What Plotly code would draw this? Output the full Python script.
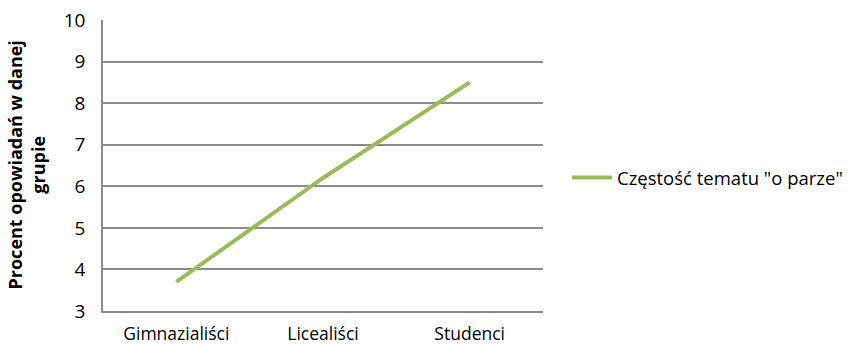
import plotly.graph_objects as go

categories = ["Gimnazialiści", "Licealiści", "Studenci"]
values = [3.7, 6.2, 8.5]
series_name = 'Częstość tematu "o parze"'
y_title = "Procent opowiadań w danej<br>grupie"
y_ticks = [3, 4, 5, 6, 7, 8, 9, 10]

FONT = "Open Sans"
GRID = "#8C8C8C"
W, H = 848, 345
LEFT, PLOT_W = 103, 440

fig = go.Figure()
fig.add_trace(go.Scatter(
    x=categories, y=values, mode="lines", name=series_name,
    line=dict(color="#9BBB59", width=4),
))

fig.update_layout(
    width=W, height=H,
    margin=dict(l=LEFT, r=0, t=20, b=34),
    paper_bgcolor="white", plot_bgcolor="white",
    font=dict(family=FONT, size=18, color="#000000"),
    showlegend=True,
    legend=dict(x=1.0, y=0.457, xanchor="right", yanchor="middle",
                font=dict(family=FONT, size=18.5), itemwidth=40,
                bgcolor="rgba(0,0,0,0)"),
    xaxis=dict(type="category", range=[-0.5, 2.5], showgrid=False,
               domain=[0, PLOT_W / (W - LEFT)], automargin=False,
               showline=True, linecolor=GRID, linewidth=1.5,
               ticks="outside", ticklen=6, tickcolor="rgba(0,0,0,0)",
               tickfont=dict(family=FONT, size=17.5)),
    yaxis=dict(range=[3, 10], tickvals=y_ticks, showgrid=True,
               automargin=False,
               gridcolor=GRID, gridwidth=1.5, zeroline=False,
               showline=True, linecolor=GRID, linewidth=1.5,
               ticks="outside", ticklen=12, tickcolor="rgba(0,0,0,0)",
               tickfont=dict(family=FONT, size=19)),
)

fig.add_annotation(
    text="<b>" + y_title + "</b>", xref="paper", yref="paper",
    x=-77 / (W - LEFT), y=0.5, xanchor="center", yanchor="middle",
    textangle=-90, showarrow=False,
    font=dict(family=FONT, size=18, color="#000000"),
)

fig.write_html("out.html")
